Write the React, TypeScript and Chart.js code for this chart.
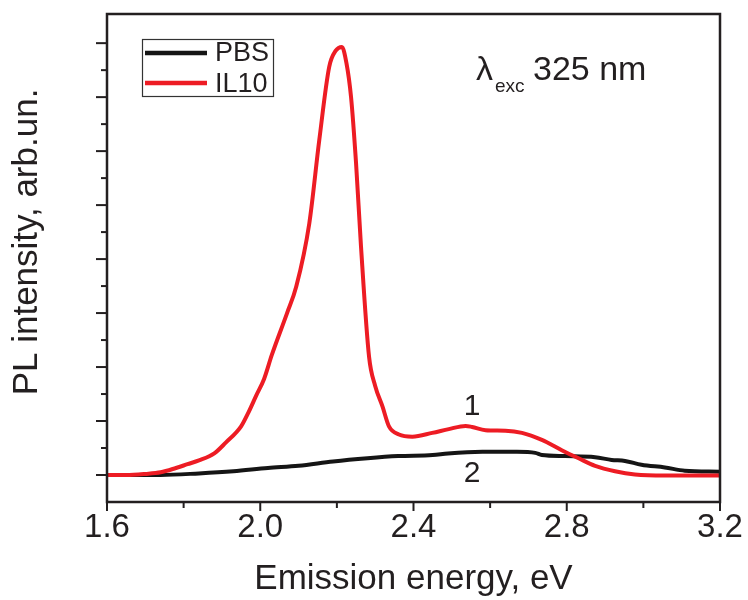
import React, { useEffect, useRef } from "react";
import { Chart, registerables } from "chart.js";

Chart.register(...registerables);

const FONT = '"Liberation Sans", Arial, Helvetica, sans-serif';
const INK = "#231f20";
const RED = "#ed1c24";
const BLACK = "#151515";

// IL10 (curve 1)
const energyIL10 = [1.6, 1.65, 1.7, 1.74, 1.78, 1.81, 1.84, 1.88, 1.91, 1.95, 1.97, 1.99, 2.01, 2.03, 2.07, 2.094, 2.128, 2.154, 2.18, 2.197, 2.213, 2.225, 2.237, 2.25, 2.263, 2.284, 2.3, 2.319, 2.336, 2.362, 2.397, 2.449, 2.492, 2.536, 2.553, 2.588, 2.64, 2.683, 2.735, 2.787, 2.831, 2.874, 2.926, 2.978, 3.056, 3.2];
const intensityIL10 = [0.0, 0.0, 0.02, 0.05, 0.13, 0.2, 0.27, 0.4, 0.6, 0.9, 1.17, 1.48, 1.78, 2.22, 3.0, 3.49, 4.66, 6.2, 7.56, 7.86, 7.93, 7.63, 7.0, 5.78, 4.23, 2.19, 1.65, 1.27, 0.9, 0.75, 0.71, 0.78, 0.85, 0.91, 0.89, 0.83, 0.82, 0.78, 0.65, 0.46, 0.31, 0.17, 0.07, 0.01, -0.01, -0.01];

// PBS (curve 2)
const energyPBS = [1.6, 1.74, 1.84, 1.93, 2.02, 2.1, 2.19, 2.28, 2.36, 2.45, 2.49, 2.58, 2.67, 2.718, 2.735, 2.796, 2.874, 2.917, 2.952, 2.995, 3.056, 3.108, 3.2];
const intensityPBS = [0.0, 0.0, 0.03, 0.07, 0.13, 0.17, 0.25, 0.31, 0.35, 0.37, 0.4, 0.43, 0.43, 0.41, 0.37, 0.35, 0.33, 0.28, 0.26, 0.19, 0.14, 0.08, 0.06];

const xMajorTicks = [1.6, 2.0, 2.4, 2.8, 3.2];
const xMinorTicks = [1.8, 2.2, 2.6, 3.0];
const yMajorTicks = [0, 1, 2, 3, 4, 5, 6, 7, 8];
const yMinorTicks = [0.5, 1.5, 2.5, 3.5, 4.5, 5.5, 6.5, 7.5];
const seriesNames = ["PBS", "IL10"];
const curveLabels = ["1", "2"];
const xTitle = "Emission energy, eV";
const yTitle = "PL intensity, arb.un.";

const toPoints = (xs: number[], ys: number[]) => xs.map((x, i) => ({ x, y: ys[i] }));

const framePlugin = {
  id: "frame",
  afterDraw(chart: any) {
    const { ctx, chartArea } = chart;
    const { left, right, top, bottom } = chartArea;
    const xs = chart.scales.x;
    const ys = chart.scales.y;
    ctx.save();
    ctx.strokeStyle = INK;
    ctx.lineCap = "butt";
    ctx.lineWidth = 2;
    const seg = (x1: number, y1: number, x2: number, y2: number) => {
      ctx.beginPath();
      ctx.moveTo(x1, y1);
      ctx.lineTo(x2, y2);
      ctx.stroke();
    };
    xMajorTicks.forEach((v) => { const p = xs.getPixelForValue(v); seg(p, bottom, p, bottom + 9); });
    xMinorTicks.forEach((v) => { const p = xs.getPixelForValue(v); seg(p, bottom, p, bottom + 6); });
    yMajorTicks.forEach((v) => { const p = ys.getPixelForValue(v); seg(left, p, left - 11, p); });
    yMinorTicks.forEach((v) => { const p = ys.getPixelForValue(v); seg(left, p, left - 6, p); });
    ctx.lineWidth = 2.5;
    ctx.strokeRect(left, top, right - left, bottom - top);

    // y-axis title
    ctx.save();
    ctx.translate(27, 242);
    ctx.rotate(-Math.PI / 2);
    ctx.fillStyle = INK;
    ctx.font = `35px ${FONT}`;
    ctx.textAlign = "center";
    ctx.textBaseline = "middle";
    ctx.fillText(yTitle, 0, 0);
    ctx.restore();

    // legend
    ctx.lineWidth = 1.2;
    ctx.strokeStyle = "#333";
    ctx.strokeRect(142.5, 39.5, 131, 57);
    ctx.lineWidth = 4.5;
    ctx.strokeStyle = BLACK;
    seg(145, 53, 207, 53);
    ctx.strokeStyle = RED;
    seg(145, 83, 207, 83);
    ctx.fillStyle = INK;
    ctx.font = `27px ${FONT}`;
    ctx.textBaseline = "alphabetic";
    ctx.textAlign = "left";
    ctx.fillText(seriesNames[0], 215, 61);
    ctx.fillText(seriesNames[1], 215, 92);

    // excitation note
    ctx.font = `34px ${FONT}`;
    ctx.fillText("\u03bb", 476, 80);
    ctx.font = `19px ${FONT}`;
    ctx.fillText("exc", 495, 92);
    ctx.font = `34px ${FONT}`;
    ctx.fillText("325 nm", 533, 80);

    // curve labels
    ctx.font = `30px ${FONT}`;
    ctx.textAlign = "center";
    ctx.fillText(curveLabels[0], 472, 415);
    ctx.fillText(curveLabels[1], 472, 482);
    ctx.restore();
  },
};

export default function App() {
  const ref = useRef<HTMLCanvasElement | null>(null);
  useEffect(() => {
    if (!ref.current) return;
    const chart = new Chart(ref.current, {
      type: "line",
      data: {
        datasets: [
          {
            label: seriesNames[0],
            data: toPoints(energyPBS, intensityPBS),
            borderColor: BLACK,
            borderWidth: 4,
            pointRadius: 0,
            cubicInterpolationMode: "monotone",
            order: 1,
          },
          {
            label: seriesNames[1],
            data: toPoints(energyIL10, intensityIL10),
            borderColor: RED,
            borderWidth: 4,
            pointRadius: 0,
            cubicInterpolationMode: "monotone",
            order: 0,
          },
        ],
      },
      options: {
        responsive: false,
        animation: false,
        devicePixelRatio: 1,
        layout: { padding: { top: 14, right: 28, left: 0, bottom: 0 } },
        plugins: { legend: { display: false }, tooltip: { enabled: false } },
        scales: {
          x: {
            type: "linear",
            min: 1.6,
            max: 3.2,
            grid: { display: false },
            border: { display: false },
            afterBuildTicks: (s: any) => { s.ticks = xMajorTicks.map((v) => ({ value: v })); },
            afterFit: (s: any) => { s.height = 98; s.paddingLeft = 0; s.paddingRight = 0; },
            ticks: {
              autoSkip: false,
              maxRotation: 0,
              padding: -2,
              color: INK,
              font: { family: FONT, size: 33 },
              callback: (v: any) => Number(v).toFixed(1),
            },
            title: {
              display: true,
              text: xTitle,
              color: INK,
              font: { family: FONT, size: 35 },
              padding: { top: 0, bottom: 0 },
            },
          },
          y: {
            type: "linear",
            min: -0.5,
            max: 8.54,
            grid: { display: false },
            border: { display: false },
            afterFit: (s: any) => { s.width = 107; s.paddingTop = 0; s.paddingBottom = 0; },
            ticks: { display: false },
            title: { display: false },
          },
        },
      },
      plugins: [framePlugin],
    } as any);
    return () => chart.destroy();
  }, []);
  return (
    <div style={{ position: "absolute", left: 0, top: 0, width: 748, height: 600, background: "#fff" }}>
      <canvas ref={ref} width={748} height={600} />
    </div>
  );
}
